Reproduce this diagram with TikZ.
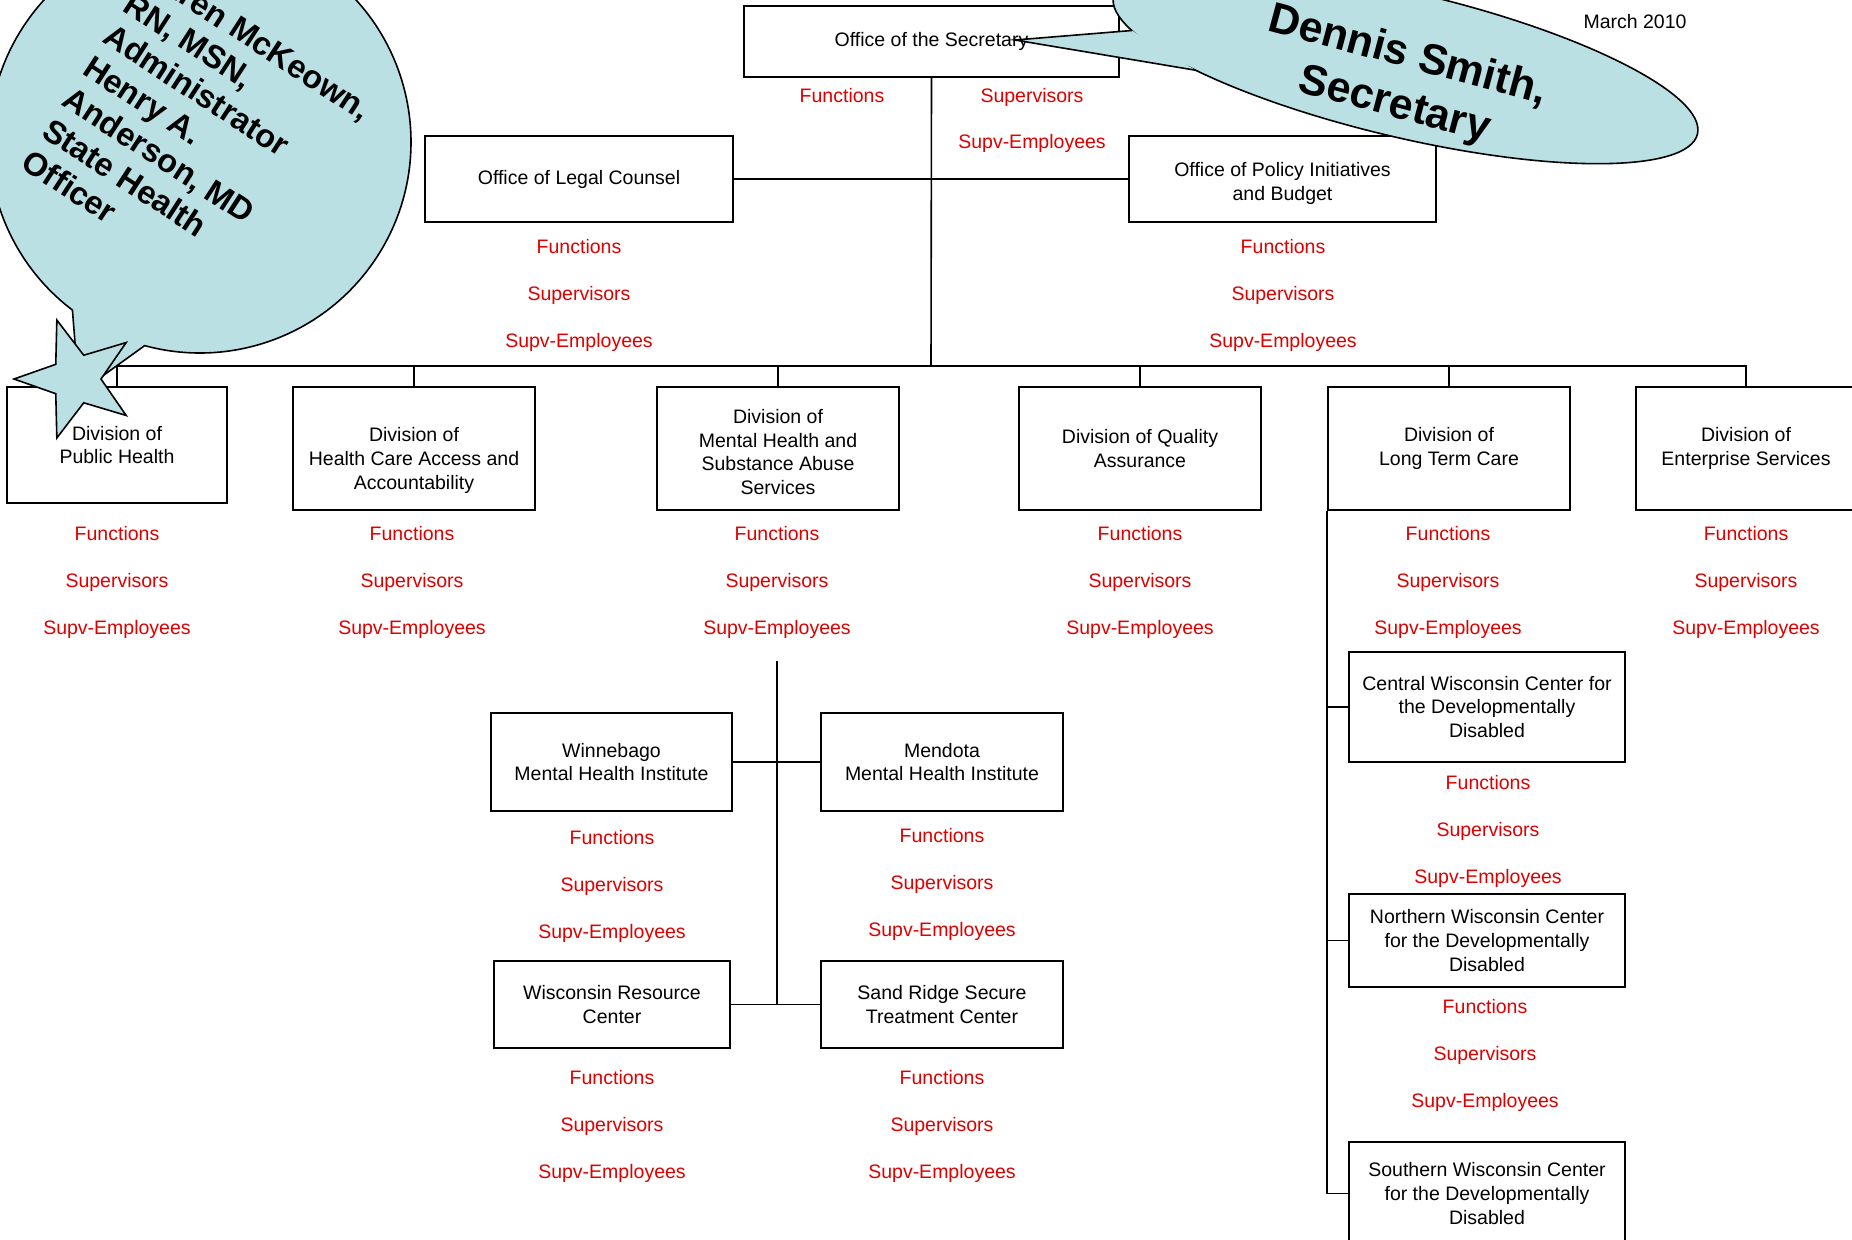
\documentclass[tikz,border=0pt]{standalone}
\usepackage{fontspec}
\setmainfont{Liberation Sans}
\usetikzlibrary{positioning,calc}
\definecolor{callout}{RGB}{186,224,228}
\definecolor{staffred}{RGB}{222,0,0}
\tikzset{
  wh/.style 2 args={minimum width=#1*0.5pt, minimum height=#2*0.5pt},
  unit/.style={draw=black, line width=0.9pt, align=center, inner sep=0pt,
    font=\fontsize{9.75}{11.8}\selectfont},
  staff/.style={text=staffred, inner sep=0pt, text height=7pt, text depth=0pt,
    font=\fontsize{9.75}{11.8}\selectfont},
  stamp/.style={inner sep=0pt, font=\fontsize{9.75}{11.8}\selectfont},
  wire/.style={draw=black, line width=0.8pt},
  bubble/.style={draw=black, fill=callout, line width=0.8pt},
}

\begin{document}
\begin{tikzpicture}[x=0.5pt,y=-0.5pt]
  \useasboundingbox (0,0) rectangle (1852,1239);
  \clip (0,0) rectangle (1852,1239);

  \node[unit, wh={375}{71}] (sec) at (931.5,41.5) {Office of the Secretary};
  \node[unit, wh={308}{86}] (legal) at (579,179) {Office of Legal Counsel};
  \node[unit, wh={307}{86}] (policy) at (1282.5,179) {\rule{0pt}{11.5pt}Office of Policy Initiatives\\and Budget};

  \node[unit, wh={220}{116}] (ph) at (117,445) {Division of\\Public Health};
  \node[unit, wh={242}{123}] (hcaa) at (414,448.5) {\rule{0pt}{19pt}Division of\\Health Care Access and\\Accountability};
  \node[unit, wh={242}{123}] (mh) at (778,448.5) {\rule{0pt}{10.5pt}Division of\\Mental Health and\\Substance Abuse\\Services};
  \node[unit, wh={242}{123}] (qa) at (1140,448.5) {Division of Quality\\Assurance};
  \node[unit, wh={242}{123}] (ltc) at (1449,448.5) {Division of\\Long Term Care};
  \node[unit, wh={220}{123}] (es) at (1746,448.5) {Division of\\Enterprise Services};

  \node[unit, wh={241}{98}] (winn) at (611.5,762) {Winnebago\\Mental Health Institute};
  \node[unit, wh={242}{98}] (mend) at (942,762) {Mendota\\Mental Health Institute};
  \node[unit, wh={236}{87}] (wrc) at (612,1004.5) {Wisconsin Resource\\Center};
  \node[unit, wh={242}{87}] (sand) at (942,1004.5) {Sand Ridge Secure\\Treatment Center};

  \node[unit, wh={276}{110}] (cwc) at (1487,707) {Central Wisconsin Center for\\the Developmentally\\Disabled};
  \node[unit, wh={276}{93}] (nwc) at (1487,940.5) {Northern Wisconsin Center\\for the Developmentally\\Disabled};
  \node[unit, wh={276}{103}] (swc) at (1487,1193.5) {Southern Wisconsin Center\\for the Developmentally\\Disabled};

  \node[stamp] (date) at (1635,22) {March 2010};

  \node[staff] (sec-f) at (842,95) {Functions};
  \node[staff] (sec-s) at (1032,95) {Supervisors};
  \node[staff] (sec-e) at (1032,141) {Supv-Employees};
  \foreach \n/\x/\y in {legal/579/246, policy/1283/246, ph/117/533, hcaa/412/533,
      mh/777/533, qa/1140/533, ltc/1448/533, es/1746/533, winn/612/837,
      mend/942/835, wrc/612/1077, sand/942/1077, cwc/1488/782, nwc/1485/1006}{
    \node[staff] (\n-f) at (\x,\y) {Functions};
    \node[staff] (\n-s) at (\x,\y+47) {Supervisors};
    \node[staff] (\n-e) at (\x,\y+94) {Supv-Employees};
  }

  \coordinate (bus) at (931,366);
  \draw[wire] (sec.south) -- (bus);
  \draw[wire] (legal.east) -- (policy.west);
  \draw[wire] (ph.north) |- (bus) -| (es.north);
  \foreach \d in {hcaa,mh,qa,ltc}
    \draw[wire] (\d.north) -- (\d.north |- bus);

  \coordinate (mhtop) at (777,661);
  \draw[wire] (mhtop) -- (mhtop |- wrc.east);
  \draw[wire] (winn.east) -- (mend.west);
  \draw[wire] (wrc.east) -- (sand.west);

  \draw[wire] (ltc.south west) |- (swc.west);
  \foreach \c in {cwc,nwc}
    \draw[wire] (ltc.south west |- \c.west) -- (\c.west);

  \draw[bubble] (79,393) -- ([shift={(127.2:211)}]200,142)
    arc[start angle=127.2, end angle=465.2, radius=211] -- cycle;
  \draw[bubble, shift={(76,379)}] (252:62) -- (288:25) -- (324:62) -- (0:25)
    -- (36:62) -- (72:25) -- (108:62) -- (144:25) -- (180:62) -- (216:25) -- cycle;

  \begin{scope}[shift={(1405.5,65)}, rotate=-13.3]
    \draw[bubble] (0,0) ellipse [x radius=300, y radius=72.5];
    \coordinate (jtop) at (156.1:300 and 72.5);
    \coordinate (jbot) at (132.6:300 and 72.5);
  \end{scope}
  \coordinate (tip) at (1015,40);
  \fill[callout] (tip) -- (jtop) -- (jbot) -- cycle;
  \draw[bubble, fill=none] (jtop) -- (tip) -- (jbot);

  \node[rotate=-33, anchor=south west, align=left, inner sep=0pt,
    font=\bfseries\fontsize{16.25}{18.75}\selectfont] (dph) at (19,168)
    {Karen McKeown,\\RN, MSN,\\Administrator\\Henry A.\\Anderson, MD\\State Health\\Officer};
  \node[rotate=-15, align=center, inner sep=0pt,
    font=\bfseries\fontsize{21.5}{25.5}\selectfont] (dos) at (1401,81)
    {Dennis Smith,\\Secretary};
\end{tikzpicture}
\end{document}
